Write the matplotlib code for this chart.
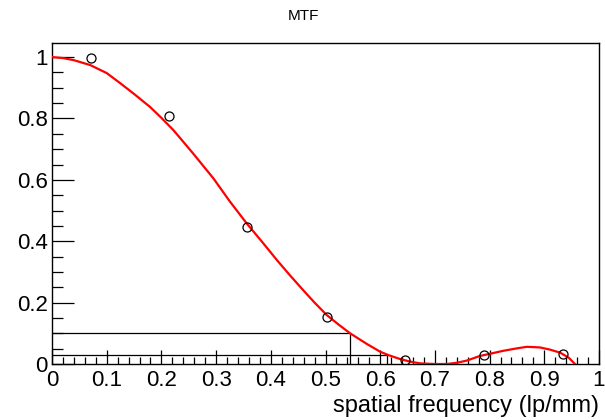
import matplotlib
matplotlib.use("Agg")
import matplotlib.pyplot as plt
from matplotlib.ticker import MultipleLocator, FuncFormatter

plt.rcParams['font.family'] = ['Liberation Sans', 'DejaVu Sans']

# measured points
pt_x = [0.071, 0.214, 0.357, 0.502, 0.646, 0.790, 0.934]
pt_y = [0.996, 0.808, 0.448, 0.152, 0.012, 0.030, 0.032]

# fitted curve
fit_x = [0.0, 0.02, 0.04, 0.07, 0.10, 0.124, 0.15, 0.179, 0.20, 0.222,
         0.258, 0.295, 0.325, 0.356, 0.385, 0.411, 0.435, 0.459, 0.48,
         0.502, 0.525, 0.545, 0.575, 0.600, 0.615, 0.635, 0.654, 0.673,
         0.70, 0.722, 0.74, 0.758, 0.782, 0.80, 0.825, 0.85, 0.868, 0.892,
         0.91, 0.929, 0.945, 0.956]
fit_y = [1.0, 0.997, 0.99, 0.974, 0.948, 0.916, 0.88, 0.838, 0.802, 0.762,
         0.686, 0.605, 0.530, 0.458, 0.396, 0.339, 0.289, 0.241, 0.200,
         0.160, 0.127, 0.100, 0.066, 0.040, 0.029, 0.017, 0.008, 0.002,
         0.0, 0.0, 0.004, 0.011, 0.026, 0.033, 0.043, 0.051, 0.056, 0.054,
         0.047, 0.037, 0.020, 0.0]

# threshold levels and their cutoff frequencies
levels = [0.10, 0.03]
cutoffs = [0.545, 0.613]

fig = plt.figure(figsize=(6.05, 4.2), dpi=100)
ax = fig.add_axes([52/605, 1-364/420, (599-52)/605, (364-43)/420])

for lv, fc in zip(levels, cutoffs):
    ax.plot([0, fc, fc], [lv, lv, 0], color='black', lw=0.9, zorder=2)

ax.plot(fit_x, fit_y, color='#ff0000', lw=1.6, zorder=3)
ax.plot(pt_x, pt_y, 'o', mfc='none', mec='black', ms=6.5, mew=0.9, zorder=4)

ax.set_xlim(0, 1)
ax.set_ylim(0, 1.046)

ax.xaxis.set_major_locator(MultipleLocator(0.1))
ax.xaxis.set_minor_locator(MultipleLocator(0.02))
ax.yaxis.set_major_locator(MultipleLocator(0.2))
ax.yaxis.set_minor_locator(MultipleLocator(0.05))

def fmt(v, pos):
    s = f"{v:.1f}"
    if s.endswith(".0"):
        s = s[:-2]
    return s

ax.xaxis.set_major_formatter(FuncFormatter(fmt))
ax.yaxis.set_major_formatter(FuncFormatter(fmt))

ax.tick_params(axis='both', which='both', direction='in', top=False, right=False,
               labelsize=16, color='black', width=0.9)
ax.tick_params(axis='x', which='major', length=10, pad=4)
ax.tick_params(axis='x', which='minor', length=5)
ax.tick_params(axis='y', which='major', length=16, pad=3)
ax.tick_params(axis='y', which='minor', length=8)

for sp in ax.spines.values():
    sp.set_linewidth(1.0)

fig.text(303/605, 1-15.5/420, "MTF", ha='center', va='center', fontsize=11)
fig.text(599/605, 1-406/420, "spatial frequency (lp/mm)", ha='right', va='center',
         fontsize=17)

fig.savefig("out.png", dpi=100)
